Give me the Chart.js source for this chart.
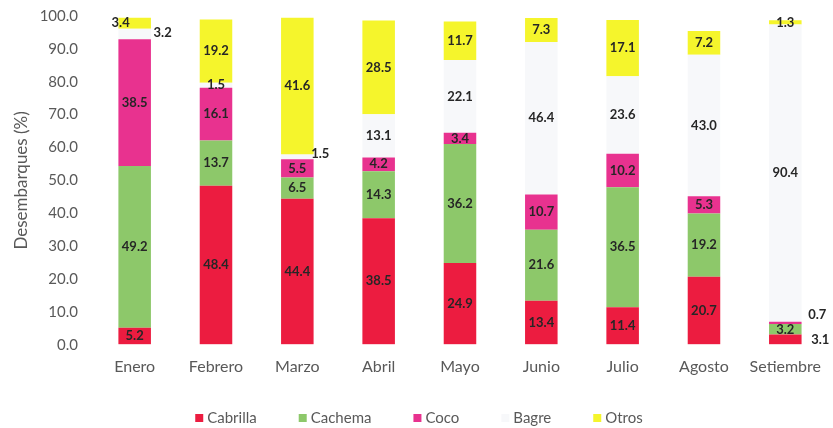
<!DOCTYPE html>
<html><head><meta charset="utf-8">
<script src="https://cdn.jsdelivr.net/npm/chart.js@4"></script>
<style>html,body{margin:0;padding:0;background:#fff}#wrap{width:833px;height:428px;position:relative}</style>
</head><body><div id="wrap"><canvas id="c"></canvas></div>
<script>
const months = ['Enero','Febrero','Marzo','Abril','Mayo','Junio','Julio','Agosto','Setiembre'];
const seriesNames = ['Cabrilla','Cachema','Coco','Bagre','Otros'];
const cabrilla = [5.2,48.4,44.4,38.5,24.9,13.4,11.4,20.7,3.1];
const cachema  = [49.2,13.7,6.5,14.3,36.2,21.6,36.5,19.2,3.2];
const coco     = [38.5,16.1,5.5,4.2,3.4,10.7,10.2,5.3,0.7];
const bagre    = [3.2,1.5,1.5,13.1,22.1,46.4,23.6,43.0,90.4];
const otros    = [3.4,19.2,41.6,28.5,11.7,7.3,17.1,7.2,1.3];
const yMin = 0, yMax = 100, yStep = 10;

const colors = ['#EC1C40','#8DC86A','#E8328F','#F7F8FA','#F5F52C'];
const seriesData = [cabrilla,cachema,coco,bagre,otros];

// label offsets (dx, dy) for small segments whose labels sit beside the bar
const labelOffsets = {'4-0':[-14,0],'3-0':[28,-1],'3-2':[23,-3],'2-8':[32,-8],'0-8':[35,0]};

const FONT = 'Lato, "Open Sans", sans-serif';

const valueLabels = {
  id:'valueLabels',
  afterDatasetsDraw(chart){
    const ctx = chart.ctx;
    ctx.save();
    ctx.font = 'bold 13px ' + FONT;
    ctx.textAlign = 'center';
    ctx.textBaseline = 'middle';
    ctx.fillStyle = '#262626';
    chart.data.datasets.forEach((ds, di) => {
      const meta = chart.getDatasetMeta(di);
      meta.data.forEach((bar, i) => {
        const v = ds.data[i];
        const off = labelOffsets[di+'-'+i] || [0,0];
        const y = (bar.y + bar.base)/2;
        ctx.fillText(v.toFixed(1), bar.x + off[0], y + off[1]);
      });
    });
    ctx.restore();
  }
};

const customLegend = {
  id:'customLegend',
  afterDraw(chart){
    const ctx = chart.ctx;
    ctx.save();
    ctx.font = '15px ' + FONT;
    ctx.textBaseline = 'middle';
    const box = 8, gapText = 4, gapItem = 42, cy = 418;
    const items = chart.data.datasets.map(d => ({t:d.label, c:d.backgroundColor, w: box + gapText + ctx.measureText(d.label).width}));
    const total = items.reduce((s,it)=>s+it.w,0) + gapItem*(items.length-1);
    let x = 419 - total/2;
    items.forEach(it => {
      ctx.fillStyle = it.c;
      ctx.fillRect(x, cy - box/2, box, box);
      ctx.fillStyle = '#595959';
      ctx.fillText(it.t, x + box + gapText, cy);
      x += it.w + gapItem;
    });
    ctx.restore();
  }
};

new Chart(document.getElementById('c'), {
  type:'bar',
  data:{
    labels: months,
    datasets: seriesNames.map((n,i)=>({label:n, data:seriesData[i], backgroundColor:colors[i], borderWidth:0, barPercentage:0.4, categoryPercentage:1}))
  },
  options:{
    responsive:true, maintainAspectRatio:false, animation:false,
    layout:{padding:{top:9,right:0,bottom:40,left:0}},
    plugins:{legend:{display:false}, tooltip:{enabled:false}},
    scales:{
      x:{stacked:true, grid:{display:false, drawTicks:false}, border:{display:false},
         ticks:{color:'#595959', font:{family:FONT, size:16}, padding:12, maxRotation:0}},
      y:{stacked:true, min:yMin, max:yMax,
         grid:{display:true, drawOnChartArea:false, drawTicks:true, tickLength:9, color:'rgba(0,0,0,0)'},
         border:{display:false},
         afterFit(s){ s.width = 94; },
         ticks:{stepSize:yStep, color:'#595959', font:{family:FONT, size:15}, padding:7, callback:v=>Number(v).toFixed(1)},
         title:{display:true, text:'Desembarques (%)', color:'#595959', font:{family:FONT, size:17}, padding:{top:11,bottom:0}}}
    }
  },
  plugins:[valueLabels, customLegend]
});
</script></body></html>
